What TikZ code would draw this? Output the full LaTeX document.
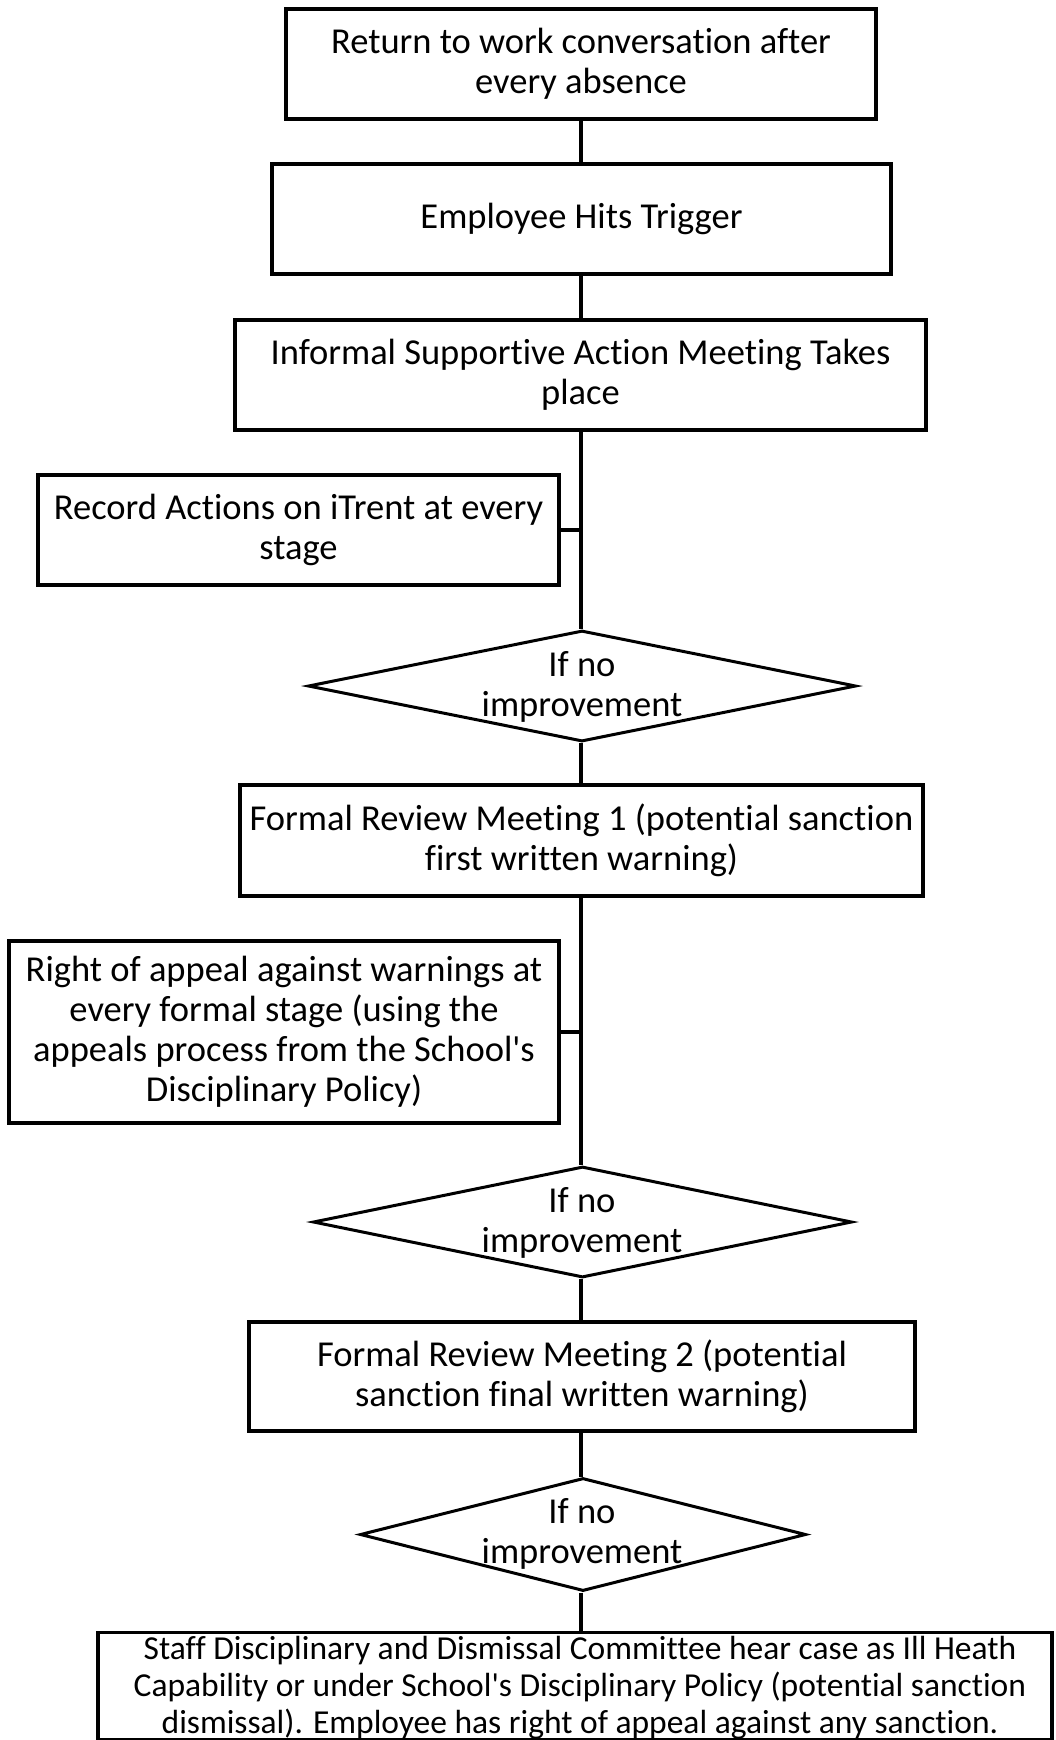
\documentclass[tikz,border=0pt]{standalone}
\usepackage{fontspec}
\setmainfont{Carlito}[Ligatures={TeX,NoCommon}]
\usetikzlibrary{shapes.geometric}
\begin{document}
\begin{tikzpicture}[x=1pt,y=-1pt,
  box/.style={draw, line width=3.4pt, rectangle, inner sep=0pt, align=center,
    font=\fontsize{36.5}{40}\selectfont},
  dia/.style={draw, line width=3pt, diamond, inner sep=0pt},
  diatext/.style={inner sep=0pt, align=center, font=\fontsize{36.5}{40}\selectfont},
  conn/.style={draw, line width=3.4pt}]
\useasboundingbox (0,0) rectangle (1055,1740);
\fill[white] (0,0) rectangle (1055,1740);

\node[box, minimum width=590pt, minimum height=110pt] (b1) at (581,64)
  {Return to work conversation after\\every absence};
\node[box, minimum width=619pt, minimum height=110pt] (b2) at (581.5,219)
  {Employee Hits Trigger};
\node[box, minimum width=691pt, minimum height=110pt] (b3) at (580.5,375)
  {Informal Supportive Action Meeting Takes\\place};
\node[box, minimum width=521pt, minimum height=110pt] (s1) at (298.5,530)
  {Record Actions on iTrent at every\\stage};
\node[dia, minimum width=548pt, minimum height=111pt] (d1) at (582,686) {};
\node[diatext] (t1) at (582,687) {If no\\improvement};
\node[box, minimum width=683pt, minimum height=111pt] (b4) at (581.5,840.5)
  {Formal Review Meeting 1 (potential sanction\\first written warning)};
\node[box, minimum width=550pt, minimum height=182pt] (s2) at (284,1032)
  {Right of appeal against warnings at\\every formal stage (using the\\appeals process from the School\textquotesingle s\\Disciplinary Policy)};
\node[dia, minimum width=539pt, minimum height=111pt] (d2) at (582.5,1222) {};
\node[diatext] (t2) at (582,1223) {If no\\improvement};
\node[box, minimum width=666pt, minimum height=109pt] (b5) at (582,1376.5)
  {Formal Review Meeting 2 (potential\\sanction final written warning)};
\node[dia, minimum width=446pt, minimum height=113pt] (d3) at (583,1534.5) {};
\node[diatext] (t3) at (582,1534) {If no\\improvement};
\node[box, minimum width=954pt, minimum height=107pt] (b6) at (575,1686) {};
\node[inner sep=0pt, align=center, font=\fontsize{33.5}{37}\selectfont] (t6) at (580,1688)
  {Staff Disciplinary and Dismissal Committee hear case as Ill Heath\\Capability or under School\textquotesingle s Disciplinary Policy (potential sanction\\dismissal). Employee has right of appeal against any sanction.};

\draw[conn] (b1.south) -- (b1.south |- b2.north);
\draw[conn] (b1.south |- b2.south) -- (b1.south |- b3.north);
\draw[conn] (b1.south |- b3.south) -- (b1.south |- d1.north);
\draw[conn] (s1.east) -- (s1.east -| b1.south);
\draw[conn] (b1.south |- d1.south) -- (b1.south |- b4.north);
\draw[conn] (b1.south |- b4.south) -- (b1.south |- d2.north);
\draw[conn] (s2.east) -- (s2.east -| b1.south);
\draw[conn] (b1.south |- d2.south) -- (b1.south |- b5.north);
\draw[conn] (b1.south |- b5.south) -- (b1.south |- d3.north);
\draw[conn] (b1.south |- d3.south) -- (b1.south |- b6.north);
\end{tikzpicture}
\end{document}
